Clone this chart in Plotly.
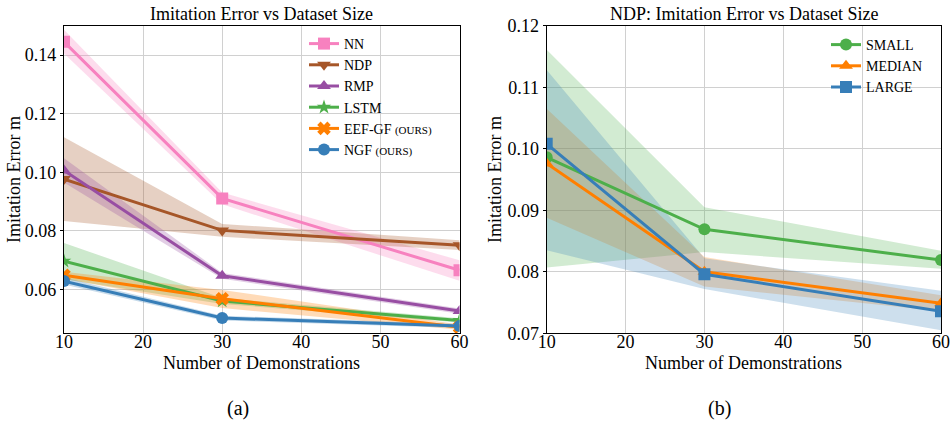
import plotly.graph_objects as go

W, H = 951, 422

# ---------------- data ----------------
demos = [10, 30, 60]

# left panel
nn_mean = [0.1445, 0.0911, 0.0666]
nn_lo = [0.1405, 0.0891, 0.0630]
nn_hi = [0.1486, 0.0931, 0.0700]

ndp_mean = [0.0977, 0.0802, 0.0751]
ndp_lo = [0.0834, 0.0780, 0.0735]
ndp_hi = [0.1120, 0.0824, 0.0768]

rmp_mean = [0.1006, 0.0647, 0.0527]
rmp_lo = [0.0965, 0.0637, 0.0518]
rmp_hi = [0.1048, 0.0657, 0.0536]

lstm_mean = [0.0697, 0.0561, 0.0495]
lstm_lo = [0.0635, 0.0551, 0.0488]
lstm_hi = [0.0759, 0.0571, 0.0502]

eef_mean = [0.0649, 0.0569, 0.0472]
eef_lo = [0.0637, 0.0537, 0.0463]
eef_hi = [0.0661, 0.0599, 0.0481]

ngf_mean = [0.0629, 0.0503, 0.0476]
ngf_lo = [0.0617, 0.0495, 0.0469]
ngf_hi = [0.0641, 0.0511, 0.0483]

# right panel
small_mean = [0.0986, 0.0869, 0.0819]
small_lo = [0.0807, 0.0832, 0.0805]
small_hi = [0.1161, 0.0905, 0.0834]

median_mean = [0.0976, 0.0800, 0.0749]
median_lo = [0.0888, 0.0776, 0.0736]
median_hi = [0.1065, 0.0824, 0.0762]

large_mean = [0.1008, 0.0796, 0.0736]
large_lo = [0.0835, 0.0772, 0.0705]
large_hi = [0.1128, 0.0822, 0.0769]

left_ticks = [0.06, 0.08, 0.10, 0.12, 0.14]
right_ticks = [0.07, 0.08, 0.09, 0.10, 0.11, 0.12]
x_ticks = [10, 20, 30, 40, 50, 60]

FONT = "Liberation Serif"
OURS = "<span style='font-size:11px'>(OURS)</span>"

left_series = [
    ("NN", nn_mean, nn_lo, nn_hi, "#f781bf", "square", 12),
    ("NDP", ndp_mean, ndp_lo, ndp_hi, "#a65628", "triangle-down", 12),
    ("RMP", rmp_mean, rmp_lo, rmp_hi, "#984ea3", "triangle-up", 12),
    ("LSTM", lstm_mean, lstm_lo, lstm_hi, "#4daf4a", "star", 11),
    ("EEF-GF " + OURS, eef_mean, eef_lo, eef_hi, "#ff7f00", "x", 12),
    ("NGF " + OURS, ngf_mean, ngf_lo, ngf_hi, "#377eb8", "circle", 12),
]
right_series = [
    ("SMALL", small_mean, small_lo, small_hi, "#4daf4a", "circle", 12),
    ("MEDIAN", median_mean, median_lo, median_hi, "#ff7f00", "triangle-up", 12),
    ("LARGE", large_mean, large_lo, large_hi, "#377eb8", "square", 12),
]


def rgba(hexc, a):
    h = hexc.lstrip("#")
    return "rgba(%d,%d,%d,%.2f)" % (int(h[0:2], 16), int(h[2:4], 16), int(h[4:6], 16), a)


fig = go.Figure()


def add_series(series, xa, ya, legend, alpha):
    for name, m, lo, hi, col, sym, ms in series:
        fig.add_trace(go.Scatter(
            x=demos + demos[::-1], y=hi + lo[::-1], fill="toself",
            fillcolor=rgba(col, alpha), line=dict(width=0), mode="lines",
            showlegend=False, hoverinfo="skip", xaxis=xa, yaxis=ya))
    for name, m, lo, hi, col, sym, ms in series:
        fig.add_trace(go.Scatter(
            x=demos, y=m, name=name, mode="lines+markers",
            line=dict(color=col, width=3),
            marker=dict(symbol=sym, size=ms, color=col, line=dict(width=0)),
            xaxis=xa, yaxis=ya, legend=legend, cliponaxis=True))


add_series(left_series, "x", "y", "legend", 0.28)
add_series(right_series, "x2", "y2", "legend2", 0.25)


def px(x):
    return x / W


def py(y):
    return 1 - y / H


ytop, ybot = 25.7, 333.3
axis_common = dict(
    showline=True, linecolor="black", linewidth=1.2, mirror=True,
    showgrid=True, gridcolor="#d0d0d0", gridwidth=1, automargin=False,
    tickfont=dict(family=FONT, size=18, color="black"), zeroline=False,
)
xaxis_extra = dict(ticks="", ticklabelstandoff=-8)
yaxis_extra = dict(ticks="outside", ticklen=3, tickcolor="black")

fig.update_layout(
    width=W, height=H, margin=dict(l=0, r=0, t=0, b=0, autoexpand=False),
    paper_bgcolor="white", plot_bgcolor="white",
    font=dict(family=FONT, color="black"),
    xaxis=dict(domain=[px(64), px(459.5)], range=[10, 60], tickvals=x_ticks, anchor="y",
               **axis_common, **xaxis_extra),
    yaxis=dict(domain=[py(ybot), py(ytop)], range=[0.0451, 0.150], tickvals=left_ticks,
               tickformat=".2f", anchor="x", **axis_common, **yaxis_extra),
    xaxis2=dict(domain=[px(546.7), px(941)], range=[10, 60], tickvals=x_ticks, anchor="y2",
                **axis_common, **xaxis_extra),
    yaxis2=dict(domain=[py(ybot), py(ytop)], range=[0.07, 0.12], tickvals=right_ticks,
                tickformat=".2f", anchor="x2", **axis_common, **yaxis_extra),
    legend=dict(x=px(304), y=py(28), xanchor="left", yanchor="top", bgcolor="rgba(0,0,0,0)",
                font=dict(family=FONT, size=14, color="black"), tracegroupgap=0,
                itemwidth=30),
    legend2=dict(x=px(826), y=py(29), xanchor="left", yanchor="top", bgcolor="rgba(0,0,0,0)",
                 font=dict(family=FONT, size=14, color="black"), tracegroupgap=0,
                 itemwidth=30),
    showlegend=True,
)

annots = [
    dict(text="Imitation Error vs Dataset Size", x=px((64 + 459.5) / 2), y=py(14), size=18),
    dict(text="NDP: Imitation Error vs Dataset Size", x=px((546.7 + 941) / 2), y=py(14), size=18),
    dict(text="Number of Demonstrations", x=px((64 + 459.5) / 2), y=py(363), size=18),
    dict(text="Number of Demonstrations", x=px((546.7 + 941) / 2), y=py(363), size=18),
    dict(text="(a)", x=px(238), y=py(408), size=20),
    dict(text="(b)", x=px(719), y=py(408), size=20),
]
for a in annots:
    fig.add_annotation(text=a["text"], x=a["x"], y=a["y"], xref="paper", yref="paper",
                       xanchor="center", yanchor="middle", showarrow=False,
                       font=dict(family=FONT, size=a["size"], color="black"))
for xc in (14, 495):
    fig.add_annotation(text="Imitation Error m", x=px(xc), y=py(180), xref="paper", yref="paper",
                       xanchor="center", yanchor="middle", showarrow=False, textangle=-90,
                       font=dict(family=FONT, size=18, color="black"))

fig.write_html("out.html")
